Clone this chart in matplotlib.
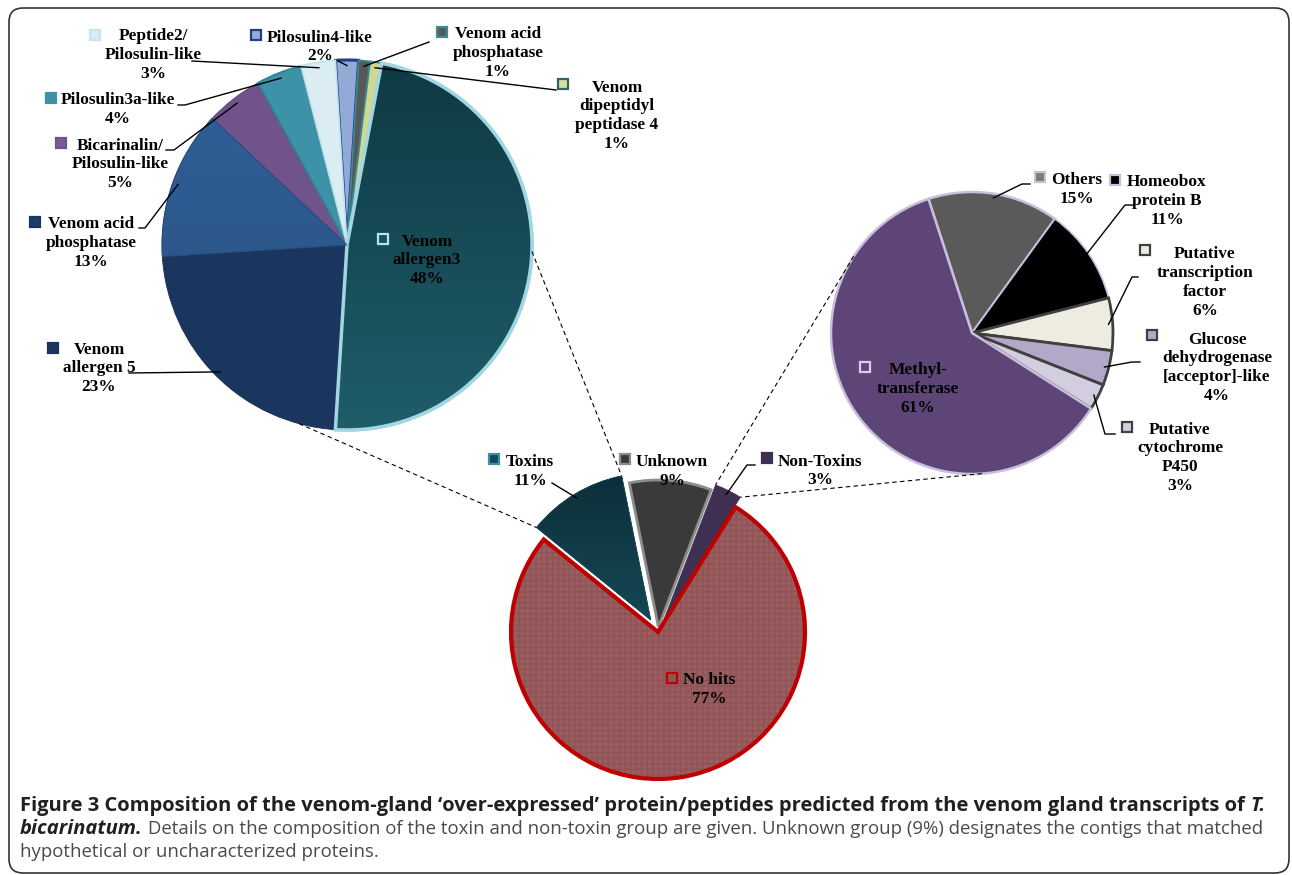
import math
import numpy as np
import matplotlib.pyplot as plt
from matplotlib.colors import LinearSegmentedColormap
from matplotlib.patches import FancyBboxPatch, Wedge

W, H = 1292, 875

# toxins group, split (left pie), clockwise from the top
tox_names = ["Pilosulin4-like", "Venom acid\nphosphatase", "Venom\ndipeptidyl\npeptidase 4",
             "Venom\nallergen3", "Venom\nallergen 5", "Venom acid\nphosphatase",
             "Bicarinalin/\nPilosulin-like", "Pilosulin3a-like", "Peptide2/\nPilosulin-like"]
tox_pct = [2, 1, 1, 48, 23, 13, 5, 4, 3]

# non-toxins group, split (right pie)
nt_names = ["Others", "Homeobox\nprotein B", "Putative\ntranscription\nfactor",
            "Glucose\ndehydrogenase\n[acceptor]-like", "Putative\ncytochrome\nP450",
            "Methyl-\ntransferase"]
nt_pct = [15, 11, 6, 4, 3, 61]

# all contigs (bottom pie)
grp_names = ["Toxins", "Unknown", "Non-Toxins", "No hits"]
grp_pct = [11, 9, 3, 77]

cap_bold = "Figure 3 Composition of the venom-gland \u2018over-expressed\u2019 protein/peptides predicted from the venom gland transcripts of "
cap_it1 = "T."
cap_it2 = "bicarinatum."
cap_rest2 = " Details on the composition of the toxin and non-toxin group are given. Unknown group (9%) designates the contigs that matched"
cap_rest3 = "hypothetical or uncharacterized proteins."

# styles
tox_colors = ['#94aad6', '#585858', '#cdd890', '#164b56', '#1b365e', '#2d578b', '#6f538a', '#3e92a7', '#dbecf3']
tox_edges = ['#1f3f80', '#3b8a9a', '#3b8a9a', '#a2d6e3', '#1a3050', '#24497a', '#5d4577', '#2f7f92', '#bfe3ee']
tox_lw = [2.2, 1.2, 1.2, 2.5, 0.6, 0.6, 0.6, 1.2, 1.2]
tox_mk = [('#94aad6', '#1f3f80'), ('#585858', '#3b8a9a'), ('#d8e09a', '#2e6470'), ('#17505c', '#b5e2ee'),
          ('#1b365e', '#1b365e'), ('#1e3d66', '#1b365e'), ('#7a5c96', '#6f538a'), ('#3e92a7', '#3e92a7'),
          ('#dbecf3', '#c4e6f0')]

nt_colors = ['#5a5a5a', '#000000', '#eeece1', '#b3a8c8', '#d3cde0', '#5d4677']
nt_edges = ['#c9bfdc', '#c9bfdc', '#3f3f3f', '#3f3f3f', '#3f3f3f', '#c9bfdc']
nt_lw = [1.8, 1.2, 2.0, 2.0, 2.0, 1.8]
nt_mk = [('#7a7a7a', '#c9bfdc'), ('#000000', '#c9bfdc'), ('#eeece1', '#3f3f3f'), ('#b3a8c8', '#3f3f3f'),
         ('#d3cde0', '#3f3f3f'), ('#5d4677', '#d6cde6')]

grp_colors = ['#174a57', '#3a3a3a', '#3d3050', '#9b5d5f']
grp_edges = ['#174a57', '#8c8c8c', '#3d3050', '#c00000']
grp_lw = [0.5, 2.0, 0.5, 3.0]
grp_explode = [14, 5, 11, 0]   # px
grp_mk = [('#174a57', '#3e92a7'), ('#3a3a3a', '#8c8c8c'), ('#3d3050', '#3d3050'), ('#8a5a5a', '#c00000')]

# label layout in picture pixels (y down): text centre x, first line centre y
tox_txt = [(320, 36), (498, 33), (617, 86), (427, 240), (99, 348), (91, 223), (120, 144), (118, 99), (153, 35)]
tox_mkxy = [(256, 35), (442, 32), (563, 84), (383, 239), (53, 348), (35, 222), (61, 143), (51, 98), (95, 35)]
tox_lead = [[(338, 61)], [(429, 42)], [(556, 90)], None, [(129, 373)], [(139, 228), (145, 228)],
            [(166, 150), (174, 150)], [(178, 105), (185, 105)], [(192, 61)]]

nt_txt = [(1077, 179), (1167, 181), (1205, 253), (1217, 338), (1180, 428), (918, 369)]
nt_mkxy = [(1040, 177), (1115, 180), (1145, 250), (1152, 335), (1127, 427), (865, 367)]
nt_lead = [[(1030, 184), (1022, 184)], [(1133, 205), (1125, 205)], [(1138, 277), (1132, 277)],
           [(1140, 362), (1132, 362)], [(1115, 434), (1105, 434)], None]

grp_txt = [(530, 461), (672, 461), (820, 460), (709, 679)]
grp_mkxy = [(494, 459), (625, 459), (767, 458), (672, 678)]
grp_lead = [[(552, 483)], None, [(755, 465), (747, 465)], None]

LINE = 18.7
serif = dict(family=['Liberation Serif', 'DejaVu Serif'], weight='bold', size=12.4, color='black')

fig = plt.figure(figsize=(W / 100, H / 100), dpi=100)
ax = fig.add_axes([0, 0, 1, 1])


def Y(y):
    return H - y


def pie(values, colors, edges, lws, centre, r, start, explode=None):
    wedges, _ = ax.pie(values, colors=colors, startangle=start, counterclock=False,
                       center=(centre[0], Y(centre[1])), radius=r, explode=explode, frame=True)
    for w, ec, lw in zip(wedges, edges, lws):
        w.set_edgecolor(ec)
        w.set_linewidth(lw)
    return wedges


def shade(w, top, bottom):
    # vertical gradient inside a wedge, edge redrawn on top
    cx, cy = w.center
    cmap = LinearSegmentedColormap.from_list('g', [bottom, top])
    im = ax.imshow(np.linspace(0, 1, 256).reshape(-1, 1), cmap=cmap, origin='lower', aspect='auto',
                   extent=(cx - w.r, cx + w.r, cy - w.r, cy + w.r), zorder=w.get_zorder() + 0.01)
    im.set_clip_path(w)
    ax.add_patch(Wedge(w.center, w.r, w.theta1, w.theta2, fill=False, edgecolor=w.get_edgecolor(),
                       lw=w.get_linewidth(), zorder=w.get_zorder() + 0.02))


def edge_point(w, frac=0.97, theta=None):
    if theta is None:
        theta = 0.5 * (w.theta1 + w.theta2)
    t = math.radians(theta)
    return w.center[0] + w.r * frac * math.cos(t), w.center[1] + w.r * frac * math.sin(t)


def labels(wedges, names, pct, txt, mkxy, lead, mk):
    for w, name, p, (tx, ty), (mx, my), ld, (mf, me) in zip(wedges, names, pct, txt, mkxy, lead, mk):
        lines = name.split("\n") + ["%d%%" % p]
        for i, s in enumerate(lines):
            ax.text(tx, Y(ty + 5.5 + i * LINE), s, ha='center', va='baseline', zorder=5, **serif)
        ax.plot(mx, Y(my), 's', ms=6.5, mfc=mf, mec=me, mew=1.6, zorder=5)
        if ld:
            ex, ey = edge_point(w)
            xs = [x for x, _ in ld] + [ex]
            ys = [Y(y) for _, y in ld] + [ey]
            ax.plot(xs, ys, color='black', lw=1.0, zorder=5)


tox_w = pie(tox_pct, tox_colors, tox_edges, tox_lw, (347, 245), 185, 93.6)
nt_w = pie(nt_pct, nt_colors, nt_edges, nt_lw, (972, 333), 141, 108)
grp_w = pie(grp_pct, grp_colors, grp_edges, grp_lw, (658, 632), 147, 141, explode=grp_explode)

shade(tox_w[3], '#0e3a44', '#1f5d69')
shade(tox_w[5], '#30609a', '#28507f')
shade(grp_w[0], '#0c2f3a', '#1f5f6e')

# grid texture and red rim on "No hits"
nh = grp_w[3]
plt.rcParams['hatch.linewidth'] = 0.5
nh.set_edgecolor('#8d5355')
nh.set_linewidth(0)
nh.set_hatch('+++')
ax.add_patch(Wedge(nh.center, nh.r, nh.theta1, nh.theta2, fill=False, edgecolor='#c00000', lw=3))


# dashed connectors from the split pies to their slices
def circ(c, r, a):
    return c[0] + r * math.sin(math.radians(a)), Y(c[1] - r * math.cos(math.radians(a)))


tw = grp_w[0]
for a, th in [(195, tw.theta2), (92, tw.theta1)]:
    p1 = circ((347, 245), 185, a)
    p2 = edge_point(tw, 1.0, th)
    ax.plot([p1[0], p2[0]], [p1[1], p2[1]], color='black', lw=0.8, ls=(0, (4, 3)), zorder=4)
nw = grp_w[2]
for a, th in [(-57, nw.theta2), (176, nw.theta1)]:
    p1 = circ((972, 333), 141, a)
    p2 = edge_point(nw, 1.0, th)
    ax.plot([p1[0], p2[0]], [p1[1], p2[1]], color='black', lw=0.8, ls=(0, (4, 3)), zorder=4)

labels(tox_w, tox_names, tox_pct, tox_txt, tox_mkxy, tox_lead, tox_mk)
labels(nt_w, nt_names, nt_pct, nt_txt, nt_mkxy, nt_lead, nt_mk)
labels(grp_w, grp_names, grp_pct, grp_txt, grp_mkxy, grp_lead, grp_mk)

# frame
ax.add_patch(FancyBboxPatch((9, Y(873)), 1280, 865, boxstyle="round,pad=0,rounding_size=14",
                            fill=False, edgecolor='#333333', lw=1.2))

ax.set_xlim(0, W)
ax.set_ylim(0, H)
ax.set_aspect('equal')
ax.axis('off')

# caption, pieces placed one after another
sans = ['Open Sans', 'DejaVu Sans']
fig.canvas.draw()
rend = fig.canvas.get_renderer()


def width(s, size, **kw):
    t = ax.text(0, 0, s, family=sans, size=size, **kw)
    w = t.get_window_extent(rend).width
    t.remove()
    return w


fs1 = 13 * 1238 / width(cap_bold + cap_it1, 13, weight='bold')
w_it = width(cap_it2, fs1, weight='bold', style='italic')
fs2 = 13 * (1238 - w_it) / width(cap_rest2, 13)


def put(x, y, s, size, **kw):
    t = ax.text(x, Y(y), s, ha='left', va='baseline', family=sans, size=size, **kw)
    return x + t.get_window_extent(rend).width


x = put(20, 811, cap_bold, fs1, weight='bold', color='#231f20')
put(x, 811, cap_it1, fs1, weight='bold', style='italic', color='#231f20')
x = put(20, 834, cap_it2, fs1, weight='bold', style='italic', color='#231f20')
put(x, 834, cap_rest2, fs2, color='#4a4a4a')
put(20, 857, cap_rest3, fs2, color='#4a4a4a')

fig.savefig('out.png', dpi=100)
